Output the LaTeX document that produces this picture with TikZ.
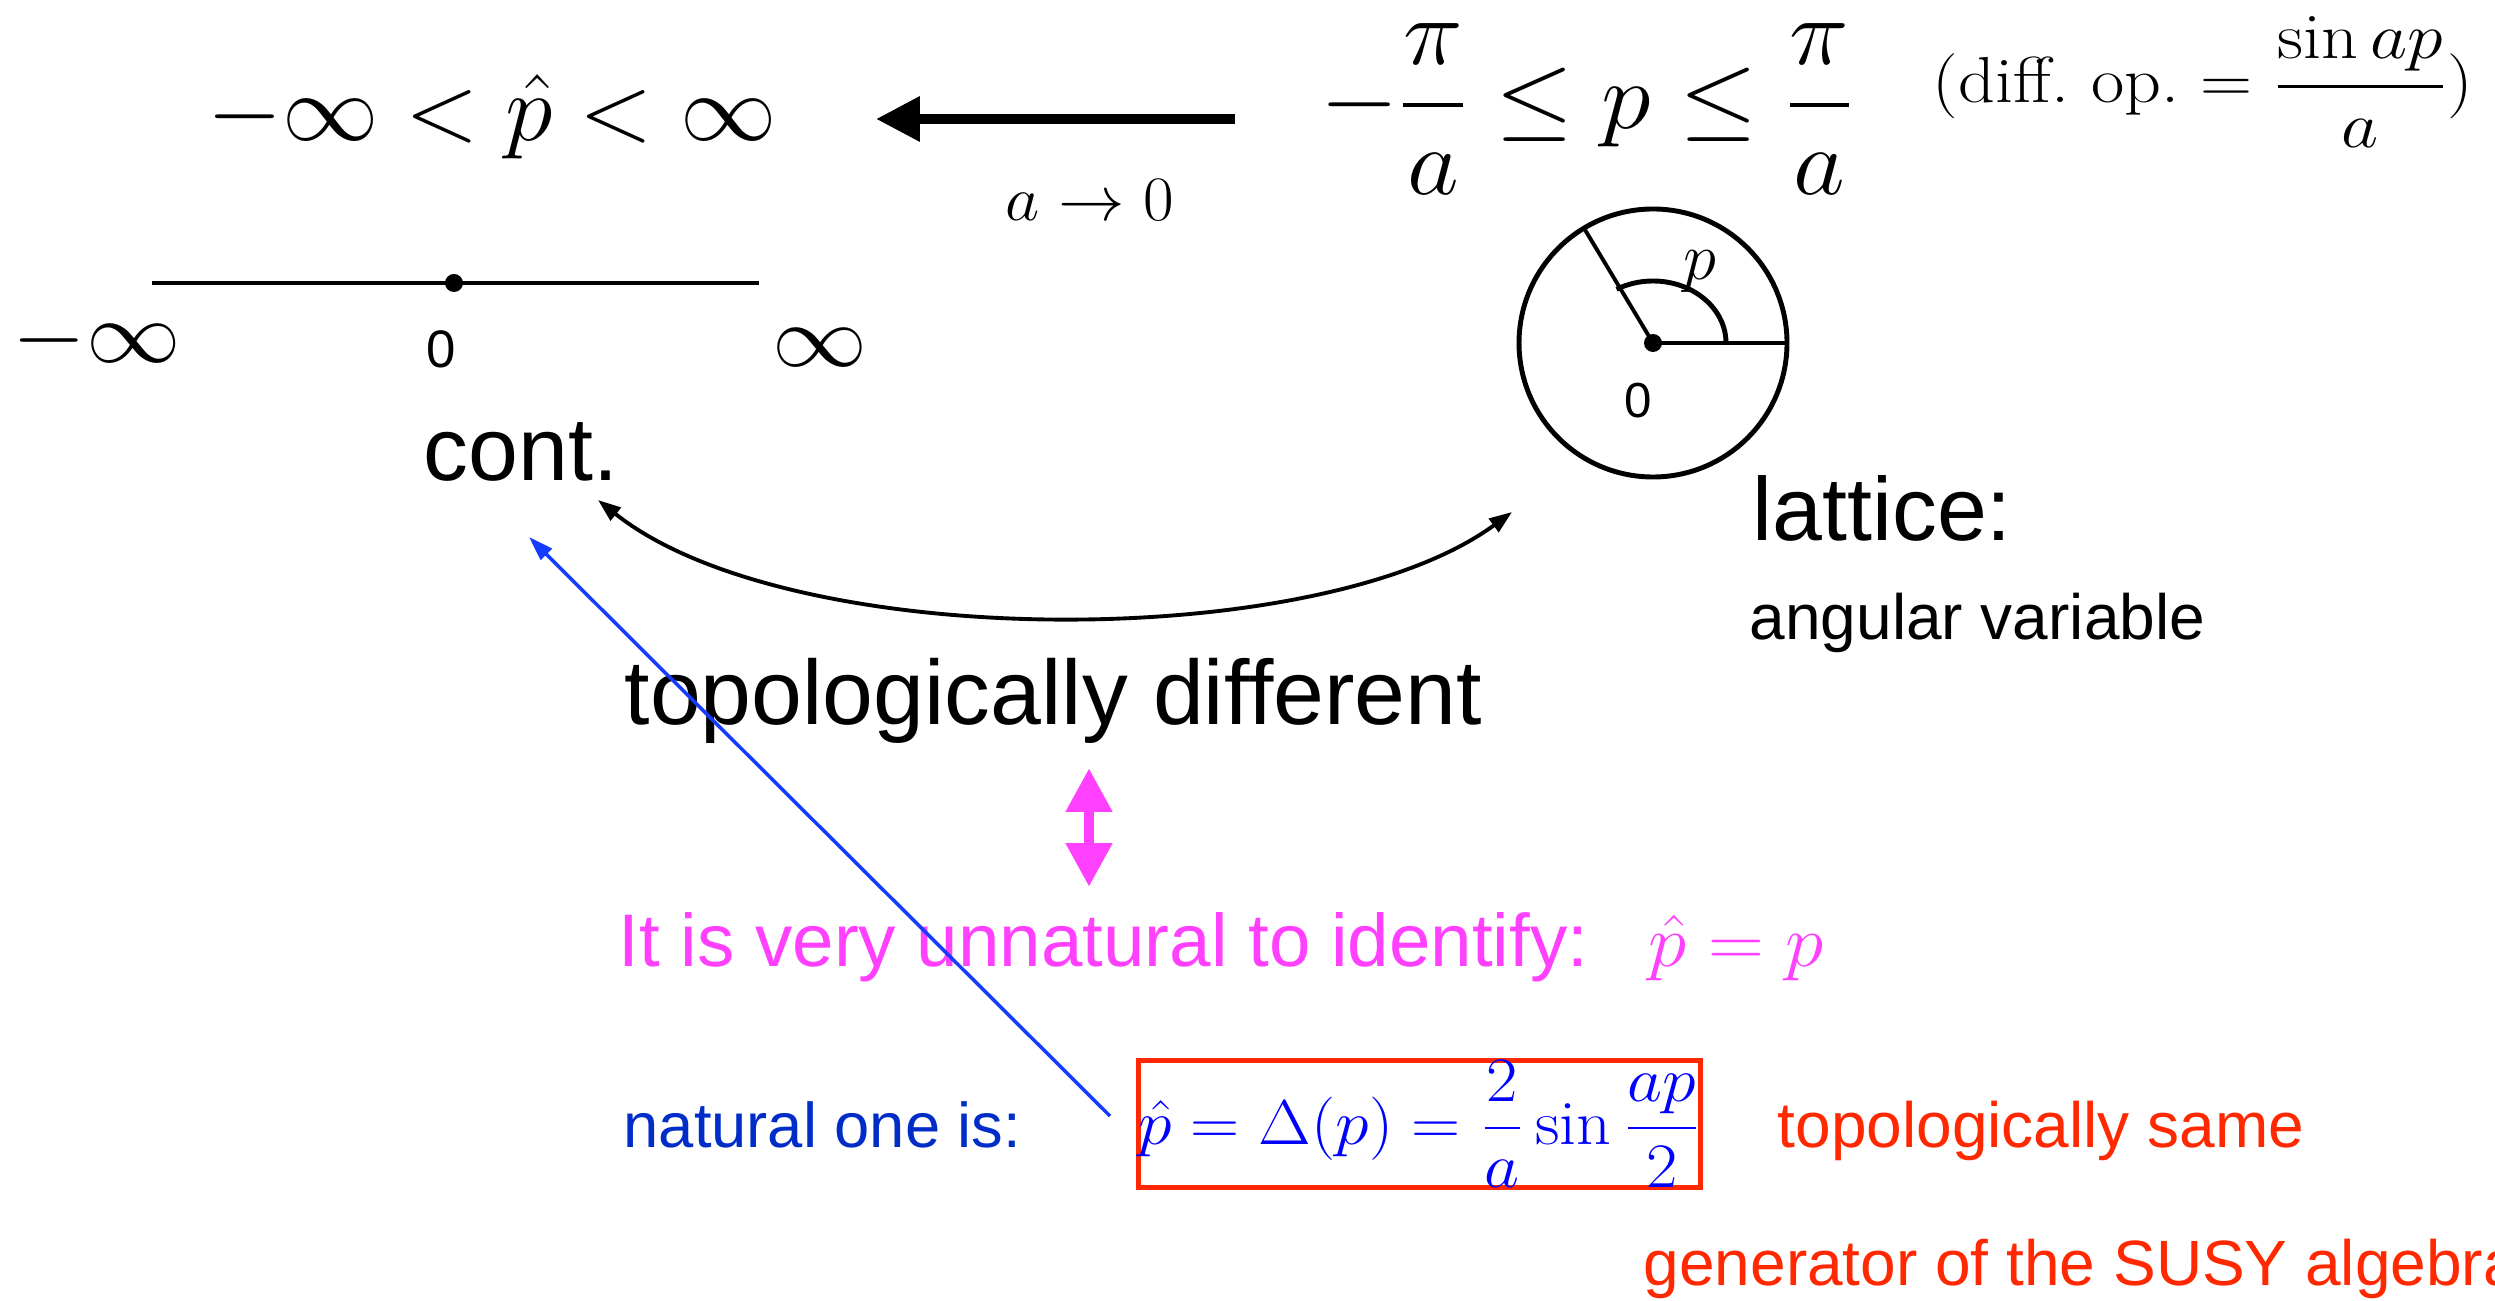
\RequirePackage{fix-cm}
\documentclass[tikz,border=0pt]{standalone}
\usepackage{amsmath,amssymb}
\usepackage{graphicx}
\usepackage{fontspec}
\newfontfamily\hel{Liberation Sans}
\usepackage{xcolor}
\usepackage{tikz}
\usetikzlibrary{arrows.meta}
\definecolor{mag}{RGB}{255,64,255}
\definecolor{nblue}{RGB}{0,45,200}
\definecolor{fblue}{RGB}{0,0,255}
\definecolor{ared}{RGB}{255,40,0}
\definecolor{lblue}{RGB}{20,60,255}
\newcommand{\fs}[1]{\fontsize{#1}{1.2\dimexpr#1\relax}\selectfont}
\newcommand{\wide}[2]{\scalebox{#1}[1]{#2}}
\tikzstyle{lbl} = [inner sep=0pt, anchor=base west]
\tikzstyle{ctr} = [inner sep=0pt, anchor=base]
\tikzstyle{rim} = [line width=1.4pt]
\tikzstyle{spoke} = [line width=1.1pt]
\tikzstyle{bigarr} = [line width=2.85pt, -{Triangle[length=12.5pt,width=12.2pt]}]
\tikzstyle{dblarr} = [line width=1.1pt, {Triangle[length=6.5pt,width=4.6pt]}-{Triangle[length=6.5pt,width=4.6pt]}]
\tikzstyle{magarr} = [mag, line width=3.1pt, {Triangle[length=12.5pt,width=12.5pt]}-{Triangle[length=12.5pt,width=12.5pt]}]
\tikzstyle{bluearr} = [lblue, line width=1pt, -{Triangle[length=7pt,width=4.4pt]}]
\begin{document}
\begin{tikzpicture}[x=0.01cm, y=-0.01cm]
\useasboundingbox (0,0) rectangle (2495,1301);
\draw (207,141) node[lbl, font=\fs{27pt}] (lf) {\wide{1.015}{$-\infty < \hat{p} < \infty$}};
\draw (1320,129) node[lbl, font=\fs{27pt}] (rf) {\wide{1.06}{$-\dfrac{\pi}{a} \le p \le \dfrac{\pi}{a}$}};
\draw (1932,103) node[lbl, font=\fs{18.5pt}] (dop) {\wide{1.11}{(diff.\ op.\ $= \dfrac{\sin ap}{a}$)}};
\draw (1005,221) node[lbl, font=\fs{18pt}] (lim) {\wide{1.05}{$a \to 0$}};
\coordinate (limS) at (1235,119);
\coordinate (limE) at (876,119);
\draw[bigarr] (limS) -- (limE);
\coordinate (ninf) at (152,283);
\coordinate (pinf) at (759,283);
\draw[rim] (ninf) -- (pinf);
\fill (454,283) circle[radius=9];
\draw (12,363) node[lbl, font=\fs{25pt}] (mi) {\wide{1.075}{$-\infty$}};
\draw (772,367) node[lbl, font=\fs{25pt}] (pi) {\wide{1.08}{$\infty$}};
\draw (441,368) node[ctr, font=\hel\fs{15pt}] (z1) {0};
\draw (423,481) node[lbl, font=\hel\fs{25.5pt}] (cont) {cont.};
\coordinate (cc) at (1653,343);
\draw[rim] (cc) circle[radius=134];
\draw[spoke] (cc) -- ++(0:134);
\draw[spoke] (cc) -- ++(-121:134);
\draw[rim] (cc) ++(73,0) arc[start angle=0, end angle=-120, x radius=73, y radius=62];
\fill (cc) circle[radius=9];
\draw (1700,280) node[ctr, font=\fs{19pt}] (pl) {$p$};
\draw (1638,418) node[ctr, font=\hel\fs{14pt}] (z2) {0};
\draw (1752,541) node[lbl, font=\hel\fs{25.5pt}] (lat) {lattice:};
\draw (1749,640) node[lbl, font=\hel\fs{18.2pt}] (ang) {angular variable};
\coordinate (cl) at (598,500);
\coordinate (cr) at (1512,512);
\draw[dblarr] (cl) .. controls (790,653) and (1320,653) .. (cr);
\draw (624,725) node[lbl, font=\hel\fs{26pt}] (td) {topologically different};
\coordinate (mt) at (1089,768);
\coordinate (mb) at (1089,887);
\draw[magarr] (mt) -- (mb);
\draw (618,966) node[lbl, mag, font=\hel\fs{21.2pt}] (unn) {It is very unnatural to identify:};
\draw (1648,966) node[lbl, mag, font=\fs{21pt}] (id) {\wide{1.05}{$\hat{p} = p$}};
\draw (623,1147) node[lbl, nblue, font=\hel\fs{18pt}] (nat) {natural one is:};
\draw (1136,1144) node[lbl, draw=ared, line width=1.4pt, text=fblue, font=\fs{18pt}] (frm) {\wide{1.076}{$\hat{p} = \Delta(p) = \dfrac{2}{a}\sin\dfrac{ap}{2}$}};
\draw (1777,1147) node[lbl, ared, font=\hel\fs{18.2pt}] (same) {topologically same};
\draw (1643,1285) node[lbl, ared, font=\hel\fs{18.2pt}] (gen) {generator of the SUSY algebra};
\coordinate (bt) at (1110,1116);
\coordinate (bh) at (529,537);
\draw[bluearr] (bt) -- (bh);
\end{tikzpicture}
\end{document}
